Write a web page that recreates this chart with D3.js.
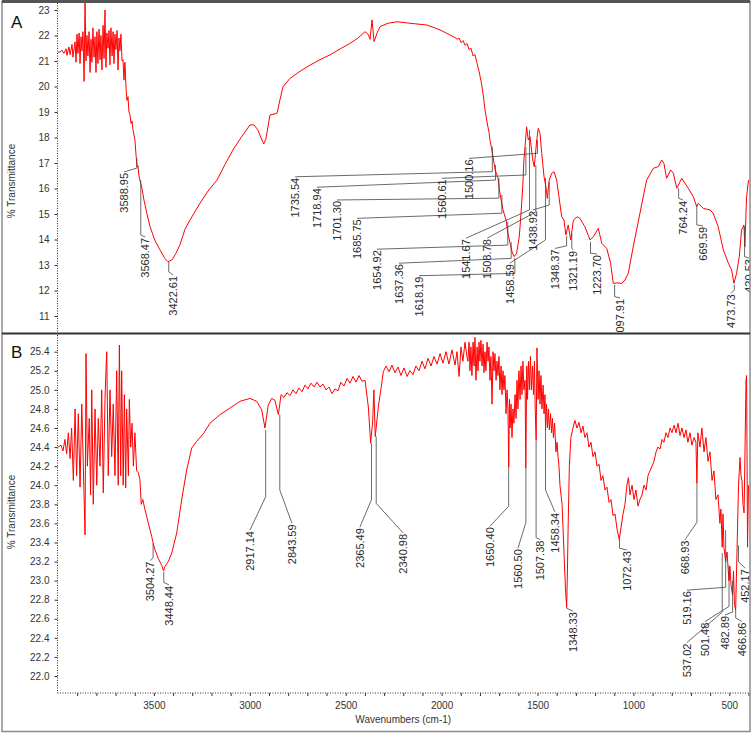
<!DOCTYPE html>
<html>
<head>
<meta charset="utf-8">
<script src="https://cdn.jsdelivr.net/npm/d3@7"></script>
<style>
  body { margin: 0; background: #fff; }
  svg text { font-family: Arial, "Liberation Sans", sans-serif; }
</style>
</head>
<body>
<svg id="chart" width="753" height="733"></svg>
<script>
// ---- spectrum A (wavenumber cm-1 / %T)
const waveA = [4000,3990,3979,3969,3958,3953,3943,3937,3927,3922,3911,3906,3901,3896,3890,3885,3880,3875,3870,3864,
  3859,3854,3849,3844,3838,3833,3828,3823,3818,3812,3807,3802,3797,3792,3786,3781,3776,3771,3765,3760,
  3755,3750,3745,3739,3734,3729,3724,3718,3713,3708,3703,3698,3692,3687,3682,3677,3672,3666,3661,3656,
  3651,3645,3640,3635,3630,3625,3619,3614,3609,3604,3599,3593,3588,3583,3578,3573,3562,3552,3536,3520,
  3494,3468,3442,3427,3406,3385,3364,3338,3312,3260,3218,3171,3129,3088,3041,2999,2979,2958,2937,2927,
  2916,2895,2858,2843,2827,2790,2738,2686,2634,2582,2530,2478,2436,2399,2383,2373,2363,2352,2337,2321,
  2279,2232,2165,2076,2008,1956,1930,1919,1909,1898,1888,1878,1867,1857,1847,1836,1826,1815,1805,1794,
  1784,1774,1763,1753,1748,1740,1732,1721,1706,1696,1680,1664,1654,1643,1633,1622,1609,1595,1586,1577,
  1571,1565,1557,1548,1539,1525,1517,1504,1496,1487,1478,1466,1456,1449,1439,1426,1414,1400,1386,1374,
  1362,1352,1340,1327,1313,1293,1279,1253,1226,1209,1183,1165,1139,1119,1105,1086,1061,1044,1027,1001,
  966,931,896,870,853,841,827,806,792,774,748,714,688,670,662,636,601,584,558,531,
  505,488,476,462,448,436,424,419,410,400];
const transA = [21.35,21.35,21.42,21.30,21.48,21.22,21.55,21.25,21.65,21.15,21.75,20.95,22.05,21.30,22.10,20.90,21.95,21.40,22.15,20.20,
  23.30,21.00,22.00,21.20,22.15,20.55,21.85,20.95,22.30,21.15,21.95,20.55,22.15,20.90,22.25,21.05,22.00,20.65,22.40,21.10,
  23.00,20.75,22.10,21.50,22.20,20.85,22.30,21.20,22.15,20.90,22.05,21.45,22.20,20.65,21.90,21.40,22.05,21.00,21.05,20.25,
  20.95,19.90,19.45,19.60,19.00,18.90,18.55,18.65,18.30,18.10,17.90,17.30,16.85,16.90,16.50,16.33,16.00,15.55,15.00,14.50,
  13.95,13.59,13.25,13.13,13.20,13.46,13.80,14.40,14.76,15.42,15.90,16.33,16.95,17.51,18.05,18.49,18.50,18.30,17.90,17.75,
  17.95,18.88,18.95,19.47,19.99,20.32,20.60,20.84,21.05,21.24,21.47,21.69,21.90,22.15,22.05,21.85,22.61,21.76,22.09,22.35,
  22.48,22.54,22.48,22.41,22.22,22.02,21.92,21.85,21.90,21.72,21.80,21.62,21.68,21.45,21.50,21.20,21.25,20.90,20.60,20.20,
  19.73,19.10,18.60,18.20,17.90,17.60,17.25,16.73,16.40,15.81,15.16,14.76,14.24,13.85,13.52,13.33,13.46,14.11,15.03,16.07,
  17.12,17.64,18.42,17.90,18.03,17.12,16.85,17.90,18.36,18.16,17.38,16.46,16.07,15.61,16.33,16.60,16.66,16.33,15.55,14.89,
  14.76,14.18,14.57,13.98,14.76,14.89,14.83,14.50,13.98,14.11,14.44,13.85,13.65,13.07,12.28,12.30,12.28,12.41,12.67,13.72,
  15.03,16.33,16.79,16.86,17.12,16.99,16.40,16.73,16.60,16.01,16.40,16.01,15.68,15.29,15.42,15.22,15.16,15.03,14.50,13.59,
  13.07,12.80,12.28,12.67,13.33,14.37,14.57,13.72,15.68,16.33];

// ---- spectrum B
const waveB = [4000,3984,3974,3964,3955,3946,3937,3929,3920,3911,3903,3894,3885,3876,3868,3859,3854,3847,3837,3830,
  3824,3816,3807,3798,3790,3781,3772,3764,3755,3750,3746,3738,3729,3720,3712,3703,3694,3686,3680,3673,
  3668,3660,3654,3647,3642,3633,3628,3621,3614,3607,3599,3590,3581,3573,3566,3558,3546,3529,3511,3505,
  3494,3477,3459,3450,3442,3425,3407,3381,3355,3329,3303,3277,3242,3208,3155,3103,3051,2999,2964,2938,
  2921,2904,2886,2869,2851,2837,2822,2806,2790,2775,2759,2744,2728,2712,2697,2681,2665,2650,2634,2618,
  2603,2587,2572,2556,2540,2525,2509,2493,2478,2462,2446,2431,2415,2399,2382,2370,2359,2353,2346,2330,
  2312,2304,2290,2274,2259,2243,2227,2212,2196,2180,2165,2149,2134,2118,2102,2087,2071,2055,2040,2024,
  2008,1993,1977,1962,1946,1930,1920,1909,1899,1889,1878,1868,1863,1857,1852,1847,1842,1836,1831,1826,
  1821,1815,1810,1805,1800,1795,1789,1784,1779,1774,1769,1763,1758,1753,1748,1743,1737,1732,1727,1722,
  1716,1711,1706,1701,1696,1690,1685,1680,1675,1670,1664,1659,1654,1650,1646,1643,1638,1633,1628,1623,
  1617,1612,1607,1602,1597,1591,1586,1581,1576,1571,1565,1561,1556,1552,1547,1542,1537,1532,1526,1521,
  1516,1512,1507,1503,1497,1492,1487,1482,1477,1471,1466,1461,1458,1453,1448,1443,1438,1432,1427,1422,
  1417,1411,1404,1398,1393,1388,1383,1372,1362,1354,1348,1344,1340,1334,1326,1315,1305,1294,1284,1273,
  1263,1253,1242,1232,1221,1211,1200,1190,1179,1169,1159,1148,1138,1127,1117,1106,1096,1086,1074,1065,
  1054,1044,1034,1026,1018,1007,997,987,976,966,955,945,934,924,914,903,893,882,872,861,
  851,841,830,820,809,799,788,778,767,757,747,736,726,716,705,695,684,674,669,664,
  653,643,632,622,611,601,590,580,570,559,549,544,537,533,528,519,512,502,497,491,
  483,478,473,467,460,452,444,439,434,429,423,418,413,410,405,400];
const transB = [24.40,24.42,24.36,24.48,24.33,24.55,24.28,24.60,24.05,24.80,24.10,24.75,23.98,24.85,24.20,23.48,25.38,24.20,24.70,23.90,
  25.00,23.80,24.80,24.00,24.70,24.20,25.00,23.92,24.90,25.20,25.40,24.10,25.00,24.30,24.85,24.10,25.20,24.00,25.47,24.10,
  25.20,24.00,24.95,23.97,24.80,24.10,24.90,24.40,24.65,24.20,24.55,24.15,24.13,24.06,23.80,23.85,23.74,23.60,23.46,23.40,
  23.32,23.23,23.16,23.10,23.15,23.20,23.29,23.50,23.85,24.16,24.39,24.46,24.54,24.65,24.74,24.81,24.88,24.91,24.88,24.79,
  24.60,24.84,24.91,24.89,24.74,24.95,24.92,24.97,24.94,25.00,24.96,25.02,24.98,25.05,25.01,25.07,25.03,25.08,25.03,25.06,
  25.00,25.03,24.96,25.01,24.99,25.08,25.04,25.12,25.07,25.14,25.08,25.15,25.09,25.10,24.82,24.44,24.68,25.00,24.51,24.82,
  25.07,25.19,25.25,25.19,25.26,25.18,25.24,25.15,25.23,25.14,25.20,25.16,25.25,25.20,25.30,25.22,25.33,25.25,25.35,25.27,
  25.38,25.28,25.40,25.27,25.42,25.26,25.40,25.14,25.45,25.30,25.50,25.35,25.30,25.50,25.20,25.45,25.15,25.50,25.25,25.55,
  25.10,25.45,25.20,25.50,25.30,25.52,25.25,25.48,25.18,25.40,25.20,25.50,25.30,25.45,25.10,25.35,24.85,25.40,25.20,25.38,
  25.10,25.30,25.15,25.35,25.00,25.25,24.95,25.20,25.00,25.15,24.75,25.00,24.80,24.19,24.90,24.60,24.85,24.50,24.80,24.65,
  24.95,24.70,25.10,24.80,25.20,24.90,25.25,24.95,25.30,25.00,25.10,24.18,25.25,24.90,25.30,25.00,25.35,25.00,25.25,24.95,
  25.30,24.80,24.47,25.44,24.90,25.20,24.85,25.15,24.80,25.05,24.75,24.95,24.58,24.85,24.60,24.80,24.58,24.75,24.55,24.70,
  24.50,24.65,24.35,24.45,24.30,24.20,24.00,23.80,23.30,22.90,22.72,23.10,23.60,24.20,24.50,24.60,24.68,24.60,24.66,24.55,
  24.62,24.50,24.55,24.40,24.45,24.30,24.35,24.20,24.22,24.05,24.10,23.95,23.98,23.82,23.85,23.68,23.70,23.55,23.43,23.55,
  23.70,23.80,24.00,24.08,23.90,24.00,23.85,23.95,23.78,23.85,23.90,24.00,23.95,24.10,24.15,24.20,24.25,24.35,24.40,24.38,
  24.48,24.45,24.55,24.50,24.60,24.55,24.63,24.55,24.65,24.52,24.60,24.50,24.58,24.45,24.55,24.42,24.50,24.45,24.02,24.55,
  24.40,24.60,24.35,24.50,24.25,24.35,24.05,24.15,23.85,23.90,23.60,23.75,23.35,23.70,23.35,23.20,23.30,23.00,23.15,22.95,
  22.85,23.10,22.75,22.69,23.30,24.00,24.29,24.10,24.05,23.80,23.71,24.40,25.10,25.15,23.35,24.00];

// ---- peak labels (peak, top of leader, knee of leader, label anchor wave/value)
const peaksA    = [3588.95,3568.47,3422.61,1735.54,1718.94,1701.30,1685.75,1654.92,1637.36,1618.19,1560.61,1500.16,1541.67,1508.78,1458.59,1438.92,1348.37,1321.19,1223.70,1097.91,764.24,669.59,473.73,420.53];
const peakTopA  = [17.2,16.33,13.12,17.64,16.92,16.41,15.75,14.69,13.9,13.27,17.63,17.9,18.29,16.92,16.41,16.25,14.14,14.25,13.91,12.22,16.01,15.35,12.22,14.5];
const peakKneeA = [16.8,14.18,12.73,16.66,16.33,15.62,15.03,13.78,13.26,12.67,16.53,17.38,15.16,15.08,13.98,15.35,13.75,13.67,13.46,11.76,15.62,14.57,12.02,13.33];
const labelWA   = [3656,3546,3400,2764,2650,2545,2441,2337,2222,2118,1998,1857,1873,1763,1644,1524,1409,1315,1190,1070,742,637,491,398];
const labelVA   = [16.65,14.1,12.61,16.46,16.05,15.55,14.83,13.62,13.07,12.58,16.4,17.18,14.05,14.05,13.07,15.16,13.65,13.59,13.43,11.71,15.55,14.53,11.89,13.27];

const peaksB    = [3504.27,3448.44,2917.14,2843.59,2365.49,2340.98,1650.40,1560.50,1507.38,1458.34,1348.33,1072.43,668.93,537.02,519.16,501.48,482.89,466.86,452.17];
const peakTopB  = [23.39,23.09,24.58,24.74,24.44,24.51,24.19,24.18,24.47,24.58,22.72,23.43,24.02,23.29,23.53,23.16,23.0,22.69,23.37];
const peakKneeB = [23.24,22.98,23.88,23.95,23.85,23.81,23.78,23.61,23.45,23.95,22.71,23.34,23.61,22.67,22.93,22.73,22.67,22.61,23.2];
const labelWB   = [3520,3421,2999,2780,2426,2201,1748,1602,1487,1409,1315,1034,731,721,721,627,523,434,418];
const labelVB   = [23.21,22.955,23.53,23.6,23.56,23.5,23.57,23.34,23.43,23.72,22.68,23.32,23.43,22.35,22.9,22.57,22.64,22.57,23.13];

const ticksA = d3.range(11, 24);
const ticksB = d3.range(0, 18).map(i => +(22 + i * 0.2).toFixed(1));
const ticksX = d3.range(3900, 399, -100);

// ---- layout
const svg = d3.select("#chart");
const left = 58, right = 748.5;
const x  = d3.scaleLinear().domain([4000, 400]).range([left, right]);
const yA = d3.scaleLinear().domain([11, 23]).range([316, 10]);
const yB = d3.scaleLinear().domain([22, 25.4]).range([676, 351.7]);
const panelA = {top: 3, bottom: 332.5};
const panelB = {top: 335, bottom: 693};

const defs = svg.append("defs");
defs.append("clipPath").attr("id", "clipA").append("rect")
  .attr("x", left).attr("y", panelA.top).attr("width", 750 - left).attr("height", panelA.bottom - panelA.top);
defs.append("clipPath").attr("id", "clipB").append("rect")
  .attr("x", left).attr("y", panelB.top).attr("width", 750 - left).attr("height", panelB.bottom - panelB.top);

function drawPanel(clip, y, waves, trans, peaks, tops, knees, lw, lv) {
  const g = svg.append("g").attr("clip-path", `url(#${clip})`);
  const line = d3.line().x(d => x(d[0])).y(d => y(d[1]));
  g.append("path")
    .datum(d3.zip(waves, trans))
    .attr("d", line)
    .attr("fill", "none")
    .attr("stroke", "#ff0000")
    .attr("stroke-width", 1);

  peaks.forEach((p, i) => {
    g.append("path")
      .attr("d", `M${x(p)},${y(tops[i])}V${y(knees[i])}L${x(lw[i])},${y(lv[i])}`)
      .attr("fill", "none")
      .attr("stroke", "#444")
      .attr("stroke-width", 0.8);
    g.append("text")
      .attr("transform", `translate(${x(lw[i])},${y(lv[i]) + 1}) rotate(-90)`)
      .attr("text-anchor", "end")
      .attr("dy", "0.35em")
      .attr("font-size", 11)
      .attr("fill", "#2a2a2a")
      .text(p.toFixed(2));
  });
}

drawPanel("clipA", yA, waveA, transA, peaksA, peakTopA, peakKneeA, labelWA, labelVA);
drawPanel("clipB", yB, waveB, transB, peaksB, peakTopB, peakKneeB, labelWB, labelVB);

// ---- axes
function styleAxis(g) {
  g.select(".domain").remove();
  g.selectAll(".tick line").attr("stroke", "#333");
  g.selectAll(".tick text").attr("fill", "#333").attr("font-size", 10)
    .attr("font-family", "Arial, 'Liberation Sans', sans-serif");
}

svg.append("g").attr("transform", `translate(${left - 0.5},0)`)
  .call(d3.axisLeft(yA).tickValues(ticksA).tickFormat(d3.format("d")).tickSize(3).tickPadding(5))
  .call(styleAxis);
svg.append("g").attr("transform", `translate(${left - 0.5},0)`)
  .call(d3.axisLeft(yB).tickValues(ticksB).tickFormat(d3.format(".1f")).tickSize(3).tickPadding(5))
  .call(styleAxis);
svg.append("g").attr("transform", `translate(0,${panelB.bottom})`)
  .call(d3.axisBottom(x).tickValues(ticksX).tickFormat(d => d % 500 === 0 ? d : "").tickSize(3).tickPadding(6))
  .call(styleAxis);

// dotted axis lines
[[panelA.top, panelA.bottom], [panelB.top, panelB.bottom]].forEach(([t, b]) => {
  svg.append("line").attr("x1", left - 0.5).attr("x2", left - 0.5).attr("y1", t).attr("y2", b)
    .attr("stroke", "#333").attr("stroke-dasharray", "1,1.5");
});
svg.append("line").attr("x1", left - 0.5).attr("x2", 750).attr("y1", panelB.bottom).attr("y2", panelB.bottom)
  .attr("stroke", "#333").attr("stroke-dasharray", "1,1.5");

// ---- titles
const font = "Arial, 'Liberation Sans', sans-serif";
svg.append("text").attr("transform", "translate(15,181) rotate(-90)")
  .attr("text-anchor", "middle").attr("font-size", 10).attr("fill", "#333").text("% Transmittance");
svg.append("text").attr("transform", "translate(15,512) rotate(-90)")
  .attr("text-anchor", "middle").attr("font-size", 10).attr("fill", "#333").text("% Transmittance");
svg.append("text").attr("x", (left + right) / 2).attr("y", 723)
  .attr("text-anchor", "middle").attr("font-size", 10).attr("fill", "#333").text("Wavenumbers (cm-1)");
svg.append("text").attr("x", 11).attr("y", 28).attr("font-size", 17).attr("fill", "#111").text("A");
svg.append("text").attr("x", 11).attr("y", 358).attr("font-size", 17).attr("fill", "#111").text("B");

// ---- frame
svg.append("rect").attr("x", 2).attr("y", 1.5).attr("width", 748).attr("height", 730)
  .attr("fill", "none").attr("stroke", "#8c8c8c").attr("stroke-width", 1.5);
svg.append("line").attr("x1", 2).attr("x2", 750).attr("y1", 1.5).attr("y2", 1.5)
  .attr("stroke", "#555").attr("stroke-width", 3);
svg.append("line").attr("x1", 2).attr("x2", 750).attr("y1", 333.5).attr("y2", 333.5)
  .attr("stroke", "#333").attr("stroke-width", 2);
</script>
</body>
</html>
